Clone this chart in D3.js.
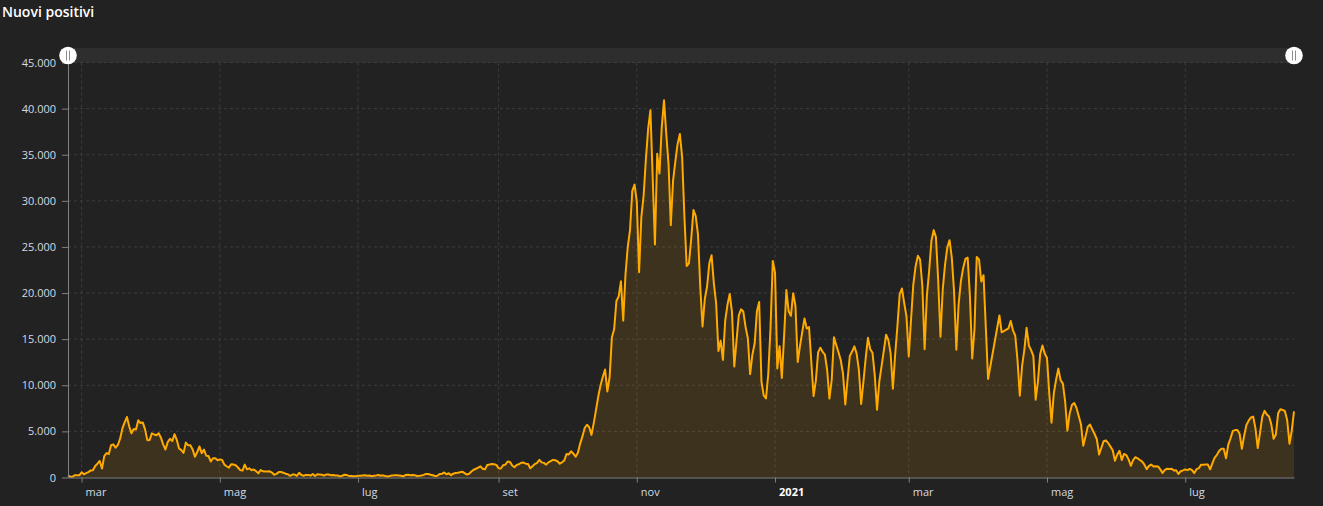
<!DOCTYPE html>
<html>
<head>
<meta charset="utf-8">
<script src="https://cdnjs.cloudflare.com/ajax/libs/d3/7.8.5/d3.min.js"></script>
<style>
    body { margin: 0; background: #222222; overflow: hidden; }
    svg { display: block; font-family: "Open Sans", "Noto Sans", sans-serif; }
</style>
</head>
<body>
<div class="canvas"></div>
<script>
// daily "nuovi positivi", one array per month (null = day missing in the source)
const feb2020 = [221, 93, 78, 250, 238, 240];
const mar2020 = [566, 342, 466, 587, 769, 778, 1247, 1492, 1797, 977, 2313, 2651, 2547, 3497, 3590, 3233, 3526, 4207, 5322, 5986, 6557, 5560, 4789, 5249, 5210, 6203, 5909, 5974, 5217, 4050, 4053];
const apr2020 = [4782, 4668, 4585, 4805, 4316, 3599, 3039, 3836, 4204, 3951, 4694, 4092, 3153, 2972, 2667, 3786, 3493, 3491, 3047, 2256, 2729, 3370, 2646, 3021, 2357, 2324, 1739, 2091, 2086, 1872];
const may2020 = [1965, 1900, 1389, 1221, 1075, 1444, 1401, 1327, 1083, 802, 744, 1402, 888, 992, 789, 875, 675, 451, 813, 665, 642, 652, 669, 531, 300, 397, 584, 593, 516, 416, 355];
const jun2020 = [178, 318, 321, 177, 518, 270, 197, 280, 283, 202, 379, 163, 346, 338, 301, 210, 329, 333, 251, 262, 224, 218, 122, 190, 296, 259, 175, 174, 126, 142];
const jul2020 = [187, 201, 223, 235, 192, 208, 138, 193, 229, 276, 188, 234, 169, 114, 162, 230, 233, 249, 219, 190, 129, 282, 306, 252, 275, 255, 170, 181, 212, 289, 386];
const aug2020 = [379, 295, 239, 159, 190, 384, 402, 552, 347, 463, 259, 412, 481, 523, 574, 629, 479, 320, 403, 642, 845, 947, 1071, 1210, 953, 878, 1367, 1411, 1462, 1444, 1365];
const sep2020 = [996, 978, 1326, 1397, 1733, 1695, 1297, 1108, 1370, 1434, 1597, 1616, 1501, 1458, 1008, 1229, 1452, 1585, 1907, 1638, 1587, 1392, 1640, 1786, 1912, 1869, 1766, 1494, 1648, 1851];
const oct2020 = [2548, 2499, 2844, 2578, 2257, 2677, 3678, 4458, 5372, 5724, 5456, 4619, 5901, 7332, 8804, 10010, 10925, 11705, 9338, 10874, 15199, 16079, 19143, 19644, 21273, 17012, 21994, 24991, 26831, 31084, 31756];
const nov2020 = [29907, 22253, 28244, 30550, 34505, 37809, 39811, 32616, 25271, 35098, 32961, 37978, 40902, 37255, 33979, 27354, 32191, 34283, 36176, 37242, 34767, 28337, 22930, 23232, 25853, 29003, 28352, 26323, 20648, 16377];
const dec2020 = [19350, 20709, 23225, 24099, 21052, 18887, 13720, 14842, 12756, 16999, 18727, 19903, 17938, 12030, 14844, 17572, 18236, 17992, 16308, 15104, 11210, 13318, 14522, 18040, 19037, 10407, 8913, 8585, 11212, 16202, 23477];
const jan2021 = [22211, 11831, 14245, 10800, 15378, 20331, 18020, 17533, 19978, 18627, 12532, 14242, 15774, 17246, 16146, 16310, 12545, 8824, 10497, 13571, 14078, 13633, 13331, 11629, 8561, 10593, 15204, 14372, 13574, 12715, 11252];
const feb2021 = [7925, 10630, 13189, 13659, 14218, 13442, 11641, 7970, 10404, 12956, 15146, 13908, 13532, 11068, 7351, 10386, 12074, 13762, 15479, 14931, 13452, 9630, 13314, 16424, 19886, 20499, 18916, 17455];
const mar2021 = [13114, 17083, 20884, 22865, 24036, 23641, 20765, 13902, 19749, 22409, 25673, 26824, 26062, 21315, 15267, 20396, 23059, 24935, 25735, 23832, 20159, 13846, 18765, 21267, 22704, 23696, 23839, 19611, 12916, 16017, 23904];
const apr2021 = [23649, 21261, 21932, null, 10680, null, null, null, null, 17567, 15746, null, null, 16168, 16974, 15943, 15370, 12694, 8864, 12074, 13844, 16232, 14320, 13817, 13158, 8444, 10404, 13385, 14320, 13446];
const may2021 = [12965, 9148, 5948, 9116, 10585, 11807, 10554, 10176, 8292, 5080, 6946, 7852, 8085, 7567, 6659, 5753, 3455, 4452, 5506, 5741, 5218, 4717, 4147, 2490, 3224, 3937, 4025, 3738, 3351, 2949, 1820];
const jun2021 = [2483, 2897, 1896, 2557, 2436, 1963, 1273, 1896, 2199, 2079, 1901, 1723, 1390, 907, 1255, 1400, 1197, 1219, 1197, 881, 495, 835, 951, 927, 952, 753, 778, 389, 679, 776];
const jul2021 = [882, 794, 932, 808, 480, 907, 1010, 1394, 1390, 1400, 1400, 888, 1554, 2153, 2455, 2898, 3121, 3127, 2072, 3558, 4259, 5057, 5143, 5140, 4743, 3117, 4522, 5696, 6171, 6513, 6599];
const aug2021 = [5321, 3190, 4845, 6596, 7230, 6837, 6619, 5735, 4197, 4664, 6968, 7409, 7336, 7188, 6201, 3662, 5091, 7162];

// first day of each array
const monthStarts = [
    ['2020-02-24', feb2020], ['2020-03-01', mar2020], ['2020-04-01', apr2020],
    ['2020-05-01', may2020], ['2020-06-01', jun2020], ['2020-07-01', jul2020],
    ['2020-08-01', aug2020], ['2020-09-01', sep2020], ['2020-10-01', oct2020],
    ['2020-11-01', nov2020], ['2020-12-01', dec2020], ['2021-01-01', jan2021],
    ['2021-02-01', feb2021], ['2021-03-01', mar2021], ['2021-04-01', apr2021],
    ['2021-05-01', may2021], ['2021-06-01', jun2021], ['2021-07-01', jul2021],
    ['2021-08-01', aug2021]
];

const xTickDates = ['2020-03-01', '2020-05-01', '2020-07-01', '2020-09-01', '2020-11-01',
                    '2021-01-01', '2021-03-01', '2021-05-01', '2021-07-01'];
const xTickLabels = ['mar', 'mag', 'lug', 'set', 'nov', '2021', 'mar', 'mag', 'lug'];
const yTickValues = [0, 5000, 10000, 15000, 20000, 25000, 30000, 35000, 40000, 45000];

const title = 'Nuovi positivi';

const parse = d3.timeParse('%Y-%m-%d');

const data = [];
monthStarts.forEach(([start, values]) => {
    const first = parse(start);
    values.forEach((v, i) => {
        data.push({ date: d3.timeDay.offset(first, i), value: v });
    });
});
const points = data.filter(d => d.value !== null);

const dims = { width: 1323, height: 506 };
const plot = { left: 68, right: 1294, top: 62.5, bottom: 477.5 };

const itLocale = d3.formatLocale({ decimal: ',', thousands: '.', grouping: [3], currency: ['€', ''] });
const fmt = itLocale.format(',d');

const svg = d3.select('.canvas')
    .append('svg')
    .attr('width', dims.width)
    .attr('height', dims.height)
;

svg.append('rect')
    .attr('width', dims.width)
    .attr('height', dims.height)
    .attr('fill', '#222222')
;

svg.append('text')
    .attr('x', 2)
    .attr('y', 17)
    .attr('fill', '#ffffff')
    .attr('font-size', 14)
    .attr('font-weight', 600)
    .text(title)
;

const x = d3.scaleTime()
    .domain(d3.extent(data, d => d.date))
    .range([plot.left, plot.right])
;

const y = d3.scaleLinear()
    .domain([0, 45000])
    .range([plot.bottom, plot.top])
;

// scrollbar band
svg.append('rect')
    .attr('x', plot.left)
    .attr('y', 48)
    .attr('width', plot.right - plot.left)
    .attr('height', 14.5)
    .attr('fill', '#2e2e2e')
;

// grid
const grid = svg.append('g').attr('class', 'grid');
grid.selectAll('line.h')
    .data(yTickValues.filter(v => v > 0))
    .enter()
    .append('line')
        .attr('class', 'h')
        .attr('x1', plot.left)
        .attr('x2', plot.right)
        .attr('y1', d => y(d))
        .attr('y2', d => y(d))
        .attr('stroke', '#3d3d3d')
        .attr('stroke-dasharray', '3,3')
;
grid.selectAll('line.v')
    .data(xTickDates.map(parse))
    .enter()
    .append('line')
        .attr('class', 'v')
        .attr('x1', d => x(d))
        .attr('x2', d => x(d))
        .attr('y1', plot.top)
        .attr('y2', plot.bottom)
        .attr('stroke', '#3d3d3d')
        .attr('stroke-dasharray', '3,3')
;

const area = d3.area()
    .x(d => x(d.date))
    .y0(y(0))
    .y1(d => y(d.value))
;

const line = d3.line()
    .x(d => x(d.date))
    .y(d => y(d.value))
;

svg.append('path')
    .datum(points)
    .attr('d', area)
    .attr('fill', '#ffaa00')
    .attr('fill-opacity', 0.12)
;

svg.append('path')
    .datum(points)
    .attr('d', line)
    .attr('fill', 'none')
    .attr('stroke', '#ffaa00')
    .attr('stroke-width', 2)
    .attr('stroke-linejoin', 'round')
;

// axes
const yAxis = svg.append('g')
    .attr('transform', `translate(${plot.left},0)`)
    .call(d3.axisLeft(y).tickValues(yTickValues).tickFormat(fmt).tickSize(6).tickSizeOuter(0).tickPadding(6))
;
yAxis.select('.domain').attr('stroke', '#808080');
yAxis.selectAll('.tick line').attr('stroke', '#808080');
yAxis.selectAll('text')
    .attr('fill', '#d3dbe4')
    .attr('font-size', 11)
    .attr('font-family', '"Open Sans", sans-serif')
;

const xAxis = svg.append('g')
    .attr('transform', `translate(0,${plot.bottom})`)
    .call(d3.axisBottom(x).tickValues(xTickDates.map(parse)).tickFormat((d, i) => xTickLabels[i]).tickSize(5).tickSizeOuter(0))
;
xAxis.select('.domain').attr('stroke', '#808080');
xAxis.selectAll('.tick line').attr('stroke', '#808080');
xAxis.selectAll('text')
    .attr('text-anchor', 'start')
    .attr('x', 3.5)
    .attr('y', 11)
    .attr('dy', '0.71em')
    .attr('fill', (d, i) => xTickLabels[i] === '2021' ? '#ffffff' : '#d3dbe4')
    .attr('font-weight', (d, i) => xTickLabels[i] === '2021' ? 700 : 400)
    .attr('font-size', 11)
    .attr('font-family', '"Open Sans", sans-serif')
;

// scrollbar grips
const grips = svg.selectAll('g.grip')
    .data([plot.left, plot.right])
    .enter()
    .append('g')
        .attr('class', 'grip')
        .attr('transform', d => `translate(${d},55.5)`)
;
grips.append('circle')
    .attr('r', 8.8)
    .attr('fill', '#ffffff')
;
grips.selectAll('line')
    .data([-1.5, 1.5])
    .enter()
    .append('line')
        .attr('x1', d => d)
        .attr('x2', d => d)
        .attr('y1', -5)
        .attr('y2', 5)
        .attr('stroke', '#8a8a8a')
        .attr('stroke-width', 1)
;
</script>
</body>
</html>
